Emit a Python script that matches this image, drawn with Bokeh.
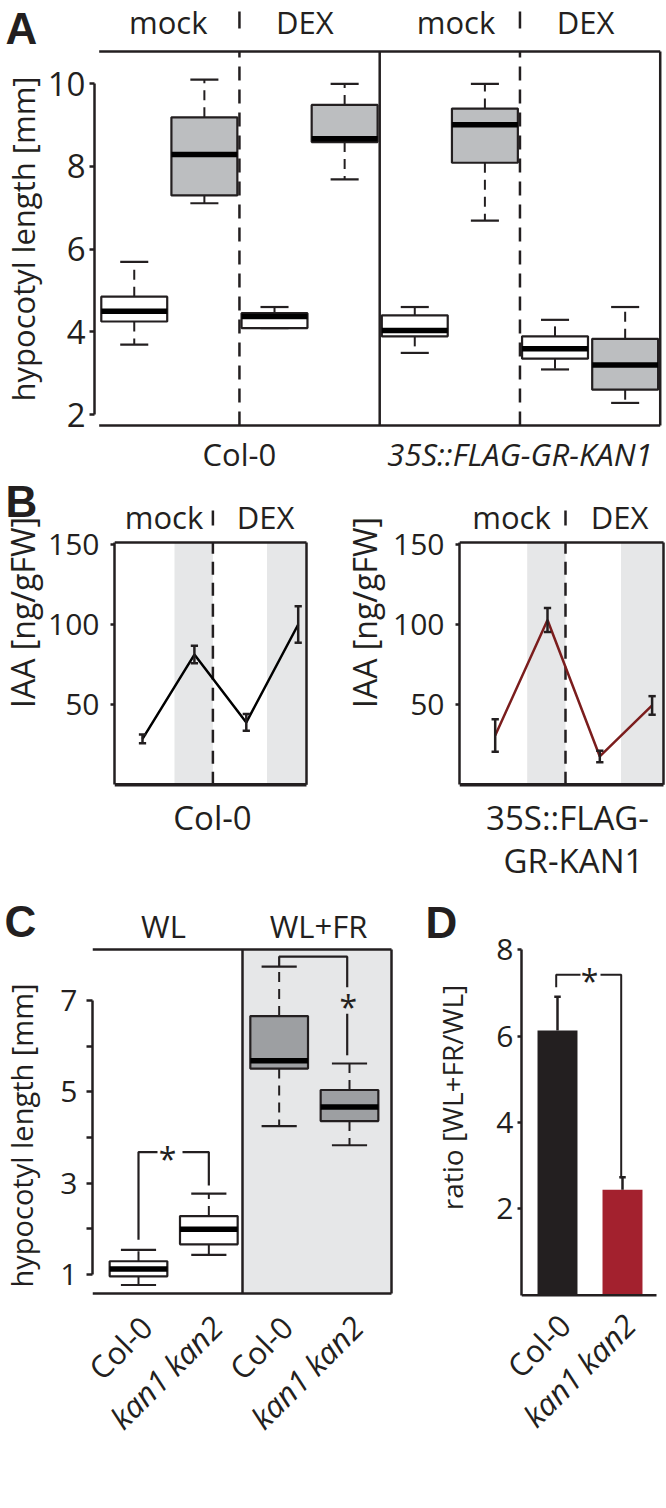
import math
from bokeh.plotting import figure
from bokeh.models import FixedTicker, ColumnDataSource, Range1d
from bokeh.layouts import column, row
from bokeh.embed import file_html
from bokeh.resources import INLINE
from bokeh.core.properties import value

FONT = "Open Sans"
LETTER_FONT = "Liberation Sans"
INK = "#231f20"
GRAY_BOX = "#bcbec0"
DARK_BOX = "#9d9fa2"
SHADE = "#e6e7e8"

# ---------------- data ----------------
# Panel A: hypocotyl length boxplots (mm)
a_pos = [1, 2, 3, 4, 5, 6, 7, 8]
a_whisk_lo = [3.69, 7.11, 4.09, 7.69, 3.49, 6.69, 3.09, 2.28]
a_q1 = [4.25, 7.30, 4.09, 8.59, 3.89, 8.09, 3.35, 2.60]
a_median = [4.50, 8.29, 4.37, 8.67, 4.03, 9.01, 3.59, 3.20]
a_q3 = [4.85, 9.19, 4.45, 9.49, 4.40, 9.40, 3.89, 3.83]
a_whisk_hi = [5.69, 10.10, 4.60, 10.00, 4.60, 10.00, 4.29, 4.60]
a_fill = ["white", GRAY_BOX] * 4
a_treat = ["mock", "DEX", "mock", "DEX"]
a_lines = ["Col-0", "35S::FLAG-GR-KAN1"]
a_ticks = [2, 4, 6, 8, 10]

# Panel B: IAA (ng/gFW)
b_x = [1, 2, 3, 4]
b_treat = ["mock", "DEX"]
b_col0_iaa = [28.2, 80.9, 38.5, 99.7]
b_col0_err = [2.8, 5.5, 5.2, 11.4]
b_kan_iaa = [30.3, 102.5, 17.2, 49.1]
b_kan_err = [10.2, 7.5, 3.6, 5.8]
b_ticks = [50, 100, 150]

# Panel C: hypocotyl length boxplots (mm)
c_pos = [1, 2, 3, 4]
c_labels = ["Col-0", "kan1 kan2", "Col-0", "kan1 kan2"]
c_label_style = ["normal", "italic", "normal", "italic"]
c_light = ["WL", "WL+FR"]
c_whisk_lo = [0.77, 1.43, 4.25, 3.83]
c_q1 = [0.96, 1.66, 5.51, 4.36]
c_median = [1.12, 1.99, 5.68, 4.67]
c_q3 = [1.29, 2.28, 6.66, 5.04]
c_whisk_hi = [1.54, 2.77, 7.74, 5.62]
c_fill = ["white", "white", DARK_BOX, DARK_BOX]
c_ticks = [1, 2, 3, 4, 5, 6, 7]

# Panel D: ratio WL+FR / WL
d_x = [1, 2]
d_labels = ["Col-0", "kan1 kan2"]
d_label_style = ["normal", "italic"]
d_ratio = [6.13, 2.44]
d_err = [0.78, 0.29]
d_colors = ["#231f20", "#a3212e"]
d_ticks = [2, 4, 6, 8]


# ---------------- helpers ----------------
def lin(p0, d0, p1, d1):
    k = (d1 - d0) / (p1 - p0)
    return lambda px: d0 + (px - p0) * k


def mid(baseline_px, size):
    # page y of the "middle" anchor for a text whose baseline is at baseline_px
    return baseline_px - 0.388 * size


def base_fig(width, height, xr, yr, border=0):
    p = figure(width=width, height=height, x_range=xr, y_range=yr,
               output_backend="svg", toolbar_location=None,
               x_axis_location=None,
               y_axis_location="left" if border else None,
               min_border_left=border, min_border_right=0,
               min_border_top=0, min_border_bottom=0)
    p.outline_line_color = None
    p.grid.grid_line_color = None
    p.background_fill_color = "white"
    p.border_fill_color = "white"
    return p


def make_panel(left, top, width, height, border, xcal, ycal):
    fx = lin(*xcal)
    fy = lin(*ycal)
    p = base_fig(width, height,
                 Range1d(fx(left + border), fx(left + width)),
                 Range1d(fy(top + height), fy(top)), border)
    return p, fx, fy


def make_strip(left, top, width, height):
    # plain page-pixel coordinates (y grows downward)
    return base_fig(width, height, Range1d(left, left + width),
                    Range1d(top + height, top))


def style_yaxis(p, ticks, bounds, size, tick_out, standoff, overrides=None):
    ax = p.yaxis[0]
    ax.ticker = FixedTicker(ticks=ticks)
    ax.bounds = bounds
    ax.axis_line_color = INK
    ax.axis_line_width = 2.5
    ax.major_tick_line_color = INK
    ax.major_tick_line_width = 2.5
    ax.major_tick_in = 0
    ax.major_tick_out = tick_out
    ax.minor_tick_line_color = None
    ax.major_label_text_font = FONT
    ax.major_label_text_font_size = f"{size}px"
    ax.major_label_text_color = INK
    ax.major_label_standoff = standoff
    if overrides:
        ax.major_label_overrides = overrides


def add_text(p, xs, ys, texts, size, align="center", style="normal",
             angle=0.0, font=FONT, **kw):
    p.text(x=xs, y=ys, text=texts, angle=angle, text_font=value(font),
           text_font_size=f"{size}px", text_font_style=style,
           text_align=align, text_baseline="middle", text_color=INK, **kw)


def strip_texts(s, letter, letter_xy, title, title_xy, title_size):
    add_text(s, [letter_xy[0]], [letter_xy[1]], [letter], 44, align="left",
             style="bold", font=LETTER_FONT)
    add_text(s, [title_xy[0]], [title_xy[1]], [title], title_size,
             angle=math.pi / 2)


def draw_boxes(p, pos, lo, q1, med, q3, hi, fill, bw, cw, dash):
    left = [x - bw / 2 for x in pos]
    right = [x + bw / 2 for x in pos]
    p.segment(x0=pos, x1=pos, y0=q3, y1=hi, line_color=INK, line_width=2,
              line_dash=dash)
    p.segment(x0=pos, x1=pos, y0=q1, y1=lo, line_color=INK, line_width=2,
              line_dash=dash)
    cl = [x - cw / 2 for x in pos]
    cr = [x + cw / 2 for x in pos]
    p.segment(x0=cl, x1=cr, y0=hi, y1=hi, line_color=INK, line_width=2.2)
    p.segment(x0=cl, x1=cr, y0=lo, y1=lo, line_color=INK, line_width=2.2)
    p.quad(left=left, right=right, bottom=q1, top=q3, fill_color=fill,
           line_color=INK, line_width=2.2)
    p.segment(x0=left, x1=right, y0=med, y1=med, line_color="black",
              line_width=5.5, line_cap="butt")


ROW_A_H = 476
ROW_B_TOP = ROW_A_H
ROW_B_H = 890 - ROW_A_H

# ---------------- Panel A ----------------
sA = make_strip(0, 0, 44, ROW_A_H)
strip_texts(sA, "A", (5, 27.5), "hypocotyl length [mm]", (22, 238.5), 31)

pA, fxA, fyA = make_panel(44, 0, 622, ROW_A_H, 48, (96.7, 0.5, 659.7, 8.5),
                          (414.0, 2, 83.3, 10))
style_yaxis(pA, a_ticks, (2, 10), 33, 5, 4)
yt, yb = fyA(51), fyA(425)
xl, xr = 0.5, len(a_pos) + 0.5
pA.segment(x0=[xl, xl, xr, 4.5], x1=[xr, xr, xr, 4.5],
           y0=[yt, yb, yb, yb], y1=[yt, yb, yt, yt],
           line_color=INK, line_width=2.5)
pA.segment(x0=[2.5, 6.5], x1=[2.5, 6.5], y0=[yb, yb], y1=[yt, yt],
           line_color=INK, line_width=2.5, line_dash="14 9")
pA.segment(x0=[2.5, 6.5], x1=[2.5, 6.5], y0=[fyA(28)] * 2, y1=[fyA(11)] * 2,
           line_color=INK, line_width=2.5)
draw_boxes(pA, a_pos, a_whisk_lo, a_q1, a_median, a_q3, a_whisk_hi, a_fill,
           0.94, 0.4, "10 7")
add_text(pA, [fxA(166), fxA(303), fxA(454.7), fxA(584.7)],
         [fyA(mid(34, 31))] * 4, a_treat, 31)
add_text(pA, [2.5], [fyA(mid(466, 31))], [a_lines[0]], 31)
add_text(pA, [6.5], [fyA(mid(466, 31))], [a_lines[1]], 31, style="italic")


# ---------------- Panel B ----------------
def panel_b(left, width, border, xcal, axis_px, right_px, shade_px, dash_px,
            vals, errs, color, head_px, bottom_texts):
    p, fx, fy = make_panel(left, ROW_B_TOP, width, ROW_B_H, border, xcal,
                           (703.5, 50, 543.5, 150))
    ytop, ybot = fy(542), fy(784.3)
    style_yaxis(p, b_ticks, (ybot, ytop), 30, 4, 11)
    xL, xR = fx(axis_px), fx(right_px)
    p.quad(left=[fx(a) for a, b in shade_px], right=[fx(b) for a, b in shade_px],
           bottom=[ybot] * 2, top=[ytop] * 2, fill_color=SHADE, line_color=None)
    p.segment(x0=[fx(dash_px)], x1=[fx(dash_px)], y0=[ybot], y1=[ytop],
              line_color=INK, line_width=2.5, line_dash="13 8")
    p.segment(x0=[fx(dash_px)], x1=[fx(dash_px)], y0=[fy(525)], y1=[fy(510)],
              line_color=INK, line_width=2.5)
    p.segment(x0=[xL, xR], x1=[xR, xR], y0=[ytop, ybot], y1=[ytop, ytop],
              line_color=INK, line_width=2.5)
    p.segment(x0=[xL], x1=[xR], y0=[ybot], y1=[ybot], line_color=INK,
              line_width=3.5)
    lo = [v - e for v, e in zip(vals, errs)]
    hi = [v + e for v, e in zip(vals, errs)]
    p.line(b_x, vals, line_color=color, line_width=2.5)
    p.segment(x0=b_x, x1=b_x, y0=lo, y1=hi, line_color=INK, line_width=2.5)
    cw = 0.07
    p.segment(x0=[x - cw for x in b_x], x1=[x + cw for x in b_x], y0=hi, y1=hi,
              line_color=INK, line_width=2.5)
    p.segment(x0=[x - cw for x in b_x], x1=[x + cw for x in b_x], y0=lo, y1=lo,
              line_color=INK, line_width=2.5)
    add_text(p, [fx(head_px[0]), fx(head_px[1])], [fy(mid(529, 31))] * 2,
             b_treat, 31)
    for txt, px, py in bottom_texts:
        add_text(p, [fx(px)], [fy(mid(py, 33))], [txt], 33)
    return p


sB1 = make_strip(0, ROW_B_TOP, 44, ROW_B_H)
strip_texts(sB1, "B", (5, 501), "IAA [ng/gFW]", (22, 612), 32)
pB1 = panel_b(44, 296, 70, (142.0, 1, 297.7, 4), 114, 306,
              [(174, 212.4), (266.5, 306)], 212.4,
              b_col0_iaa, b_col0_err, "black", (163.5, 265),
              [(a_lines[0], 212, 830)])
sB2 = make_strip(340, ROW_B_TOP, 48, ROW_B_H)
add_text(sB2, [364], [612], ["IAA [ng/gFW]"], 32, angle=math.pi / 2)
pB2 = panel_b(388, 278, 71, (494.7, 1, 651.6, 4), 459, 663,
              [(526.7, 565), (620.5, 663)], 565,
              b_kan_iaa, b_kan_err, "#7b1d1d", (511, 619),
              [("35S::FLAG-", 567, 830), ("GR-KAN1", 573, 873)])

# ---------------- Panel C ----------------
sC = make_strip(0, 890, 44, 408)
strip_texts(sC, "C", (4, 921), "hypocotyl length [mm]", (21, 1135), 29)
pC, fxC, fyC = make_panel(44, 890, 368, 408, 48, (138.0, 1, 349.0, 4),
                          (1274.0, 1, 1000.0, 7))
style_yaxis(pC, c_ticks, (1, 7), 30, 6, 9, overrides={2: "", 4: "", 6: ""})
ct, cb = fyC(949), fyC(1293)
cl, cr, cdiv = fxC(92), fxC(391), fxC(242)
pC.quad(left=[cdiv], right=[cr], bottom=[cb], top=[ct], fill_color=SHADE,
        line_color=None)
pC.segment(x0=[cl, cl, cr, cdiv], x1=[cr, cr, cr, cdiv], y0=[ct, cb, cb, cb],
           y1=[ct, cb, ct, ct], line_color=INK, line_width=2.5)
draw_boxes(pC, c_pos, c_whisk_lo, c_q1, c_median, c_q3, c_whisk_hi, c_fill,
           0.82, 0.5, "10 7")
pC.multi_line(xs=[[1, 1, fxC(157)], [fxC(182), 2, 2],
                  [3, 3, fxC(346.7), fxC(346.7)], [fxC(346.7), fxC(346.7)]],
              ys=[[1.76, 3.68, 3.68], [3.68, 3.68, 2.95],
                  [7.74, 7.96, 7.96, 7.29], [6.71, 5.80]],
              line_color=INK, line_width=2.2)
add_text(pC, [fxC(167), fxC(347.7)], [fyC(1158), fyC(1006)], ["*", "*"], 32)
add_text(pC, [fxC(163), fxC(318)], [fyC(mid(938, 31))] * 2, c_light, 31)

# ---------------- Panel D ----------------
sD = make_strip(412, 890, 68, 408)
strip_texts(sD, "D", (425, 922), "ratio [WL+FR/WL]", (451, 1097), 28)
pD, fxD, fyD = make_panel(480, 890, 186, 408, 41, (557.0, 1, 622.0, 2),
                          (1294.7, 0, 949.3, 8))
style_yaxis(pD, d_ticks, (0, 8), 30, 4, 4)
pD.vbar(x=d_x, top=d_ratio, width=0.615, fill_color=d_colors, line_color=None)
d_hi = [r + e for r, e in zip(d_ratio, d_err)]
pD.segment(x0=d_x, x1=d_x, y0=d_ratio, y1=d_hi, line_color=INK, line_width=2.5)
pD.segment(x0=[x - 0.05 for x in d_x], x1=[x + 0.05 for x in d_x], y0=d_hi,
           y1=d_hi, line_color=INK, line_width=2.5)
pD.segment(x0=[fxD(521)], x1=[fxD(656)], y0=[0], y1=[0], line_color=INK,
           line_width=2.5)
pD.multi_line(xs=[[fxD(555.7), fxD(555.7), fxD(580)],
                  [fxD(600), fxD(620.7), fxD(620.7)]],
              ys=[[7.13, 7.42, 7.42], [7.42, 7.42, 2.71]],
              line_color=INK, line_width=2)
add_text(pD, [fxD(589)], [fyD(980)], ["*"], 32)

# ---------------- rotated category labels of C and D ----------------
pL = make_strip(0, 1298, 666, 142)
pL.extra_x_ranges = {"C": Range1d(fxC(0), fxC(666)),
                     "D": Range1d(fxD(0), fxD(666))}
srcC = ColumnDataSource(dict(x=[c + 0.11 for c in c_pos], y=[1321] * 4,
                             t=c_labels, s=c_label_style))
pL.text(x="x", y="y", text="t", text_font_style="s", source=srcC,
        x_range_name="C", angle=math.pi / 4, text_font=value(FONT),
        text_font_size="31px", text_align="right", text_baseline="middle",
        text_color=INK)
srcD = ColumnDataSource(dict(x=[c + 0.11 for c in d_x], y=[1319] * 2,
                             t=d_labels, s=d_label_style))
pL.text(x="x", y="y", text="t", text_font_style="s", source=srcD,
        x_range_name="D", angle=math.pi / 4, text_font=value(FONT),
        text_font_size="31px", text_align="right", text_baseline="middle",
        text_color=INK)

layout = column(row(sA, pA), row(sB1, pB1, sB2, pB2), row(sC, pC, sD, pD), pL)
open("out.html", "w").write(file_html(layout, INLINE))
